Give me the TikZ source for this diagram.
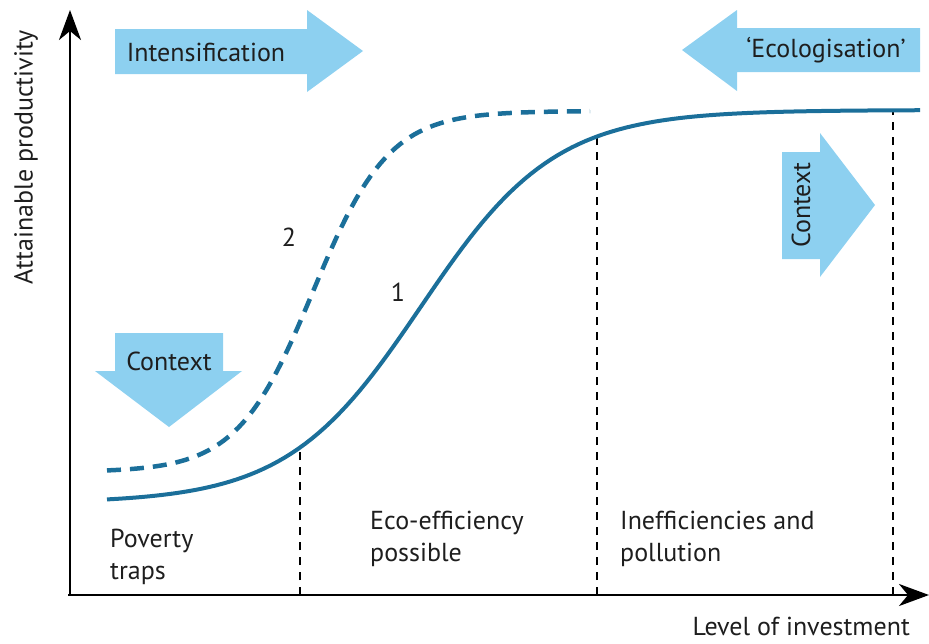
\documentclass[tikz,border=0pt]{standalone}
\usepackage{fontspec}
\setmainfont{PT Sans}
\usepackage{tikz}
\usetikzlibrary{arrows.meta}
\definecolor{CurveBlue}{HTML}{1B6F9A}
\definecolor{ArrowBlue}{HTML}{8DD0F0}
\definecolor{TextGrey}{HTML}{1E1E1E}
\tikzset{
  axisline/.style={line width=2.6pt,-{Stealth[length=30pt,width=22pt,inset=9pt]}},
  curve/.style={CurveBlue,line width=4pt},
  divider/.style={line width=2.8pt,dash pattern=on 8pt off 7pt},
  bigarrow/.style={fill=ArrowBlue,draw=none},
  txt/.style={text=TextGrey,font=\fontsize{26}{32}\selectfont,align=left,inner sep=0pt},
}
\begin{document}
\begin{tikzpicture}[x=1pt,y=-1pt]
        \useasboundingbox (0,0) rectangle (929,643);

        % shaded arrows
        \fill[bigarrow] (115,29) -- (307,29) -- (307,10) -- (363,51) -- (307,92) -- (307,74) -- (115,74) -- cycle;
        \fill[bigarrow] (920,28) -- (737,28) -- (737,10) -- (682,50) -- (737,91) -- (737,72) -- (920,72) -- cycle;
        \fill[bigarrow] (782,259) -- (820,259) -- (820,277) -- (875,205) -- (820,133) -- (820,152) -- (782,152) -- cycle;
        \fill[bigarrow] (115,333) -- (223,333) -- (223,371) -- (242,371) -- (169,427) -- (95,371) -- (115,371) -- cycle;

        \node[txt] (intens) at (206,52) {Intensification};
        \node[txt] (ecolog) at (826,50) {‘Ecologisation’};
        \node[txt,rotate=90] (ctxright) at (801,205) {Context};
        \node[txt] (ctxdown) at (169,361) {Context};

        % axes
        \coordinate (origin) at (70,595);
        \coordinate (ytip) at (70,10);
        \coordinate (xtip) at (929,595);
        \draw[axisline] (origin) -- (ytip);
        \draw[axisline] (68,595) -- (xtip);

        \node[txt,rotate=90] (ylab) at (26,157) {Attainable productivity};
        \node[txt,anchor=north east] (xlab) at (910,617) {Level of investment};

        % zones
        \coordinate (d1) at (300,452);
        \coordinate (d2) at (597,135);
        \coordinate (d3) at (893,110);
        \draw[divider] (300,595) -- (d1);
        \draw[divider] (597,595) -- (d2);
        \draw[divider] (893,595) -- (d3);

        \node[txt,anchor=north west] (poverty) at (110,529) {Poverty\\traps};
        \node[txt,anchor=north west] (ecoeff) at (370,511) {Eco-efficiency\\possible};
        \node[txt,anchor=north west] (ineff) at (620,511) {Inefficiencies and\\pollution};

        % curves
        \draw[curve] plot[domain=107:920,samples=120] (\x,{503-393/(1+exp(-(\x-421)/67))});
        \draw[curve,line width=4.5pt,dash pattern=on 14pt off 9pt] plot[domain=107:590,samples=100] (\x,{472-361/(1+exp(-(\x-313)/38))});

        \node[txt] (one) at (398,292) {1};
        \node[txt] (two) at (289,237) {2};

    \end{tikzpicture}
\end{document}
